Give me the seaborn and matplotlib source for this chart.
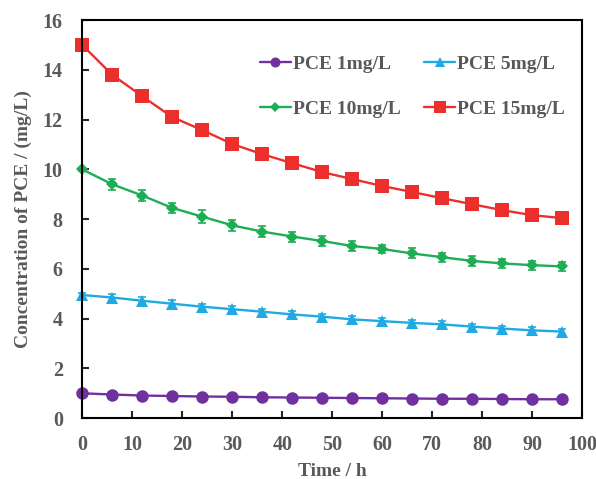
import numpy as np
import pandas as pd
import matplotlib
matplotlib.use('Agg')
import matplotlib.pyplot as plt
import seaborn as sns

# time points (h)
time_h = [0, 6, 12, 18, 24, 30, 36, 42, 48, 54, 60, 66, 72, 78, 84, 90, 96]

pce_1 = [1.00, 0.95, 0.91, 0.89, 0.87, 0.86, 0.84, 0.83, 0.82, 0.81, 0.80, 0.79, 0.78, 0.78, 0.77, 0.76, 0.76]
pce_5 = [4.95, 4.85, 4.72, 4.60, 4.48, 4.38, 4.28, 4.17, 4.08, 3.97, 3.90, 3.83, 3.77, 3.68, 3.60, 3.53, 3.48]
pce_10 = [10.0, 9.40, 8.95, 8.45, 8.10, 7.75, 7.50, 7.30, 7.12, 6.92, 6.80, 6.62, 6.47, 6.32, 6.22, 6.15, 6.10]
pce_15 = [15.0, 13.80, 12.94, 12.10, 11.58, 11.02, 10.61, 10.25, 9.89, 9.61, 9.33, 9.09, 8.84, 8.60, 8.36, 8.16, 8.04]

err_1 = [0.03] * 17
err_5 = [0.10, 0.15, 0.15, 0.15, 0.12, 0.12, 0.12, 0.12, 0.12, 0.12, 0.12, 0.12, 0.12, 0.12, 0.12, 0.12, 0.12]
err_10 = [0.05, 0.22, 0.22, 0.20, 0.25, 0.22, 0.22, 0.20, 0.20, 0.20, 0.18, 0.20, 0.18, 0.20, 0.18, 0.18, 0.18]
err_15 = [0.05, 0.18, 0.20, 0.25, 0.18, 0.18, 0.18, 0.18, 0.22, 0.18, 0.20, 0.18, 0.18, 0.18, 0.20, 0.20, 0.18]

labels = ['PCE 1mg/L', 'PCE 5mg/L', 'PCE 10mg/L', 'PCE 15mg/L']
colors = ['#7030A0', '#1FAAE3', '#1DAE55', '#EC2F2D']
markers = ['o', '^', 'D', 's']
msizes = [9, 8.5, 6.5, 10]

series = [pce_1, pce_5, pce_10, pce_15]
errors = [err_1, err_5, err_10, err_15]

sns.set_style('ticks')
plt.rcParams['font.family'] = ['Liberation Serif', 'DejaVu Serif']
plt.rcParams['font.weight'] = 'bold'
txt = '#595959'

fig = plt.figure(figsize=(5.96, 4.79), dpi=100)
ax = fig.add_axes([0.138, 0.127, 0.839, 0.831])

handles = []
for s, e, c, m, ms, lab in zip(series, errors, colors, markers, msizes, labels):
    ax.errorbar(time_h, s, yerr=e, fmt='none', ecolor=c, elinewidth=1.2,
                capsize=3, capthick=1.2, clip_on=False)
    d = pd.DataFrame({'Time': time_h, 'Conc': s})
    sns.lineplot(data=d, x='Time', y='Conc', color=c, marker=m, markersize=ms,
                 markeredgewidth=0, linewidth=1.7, ax=ax, clip_on=False, label=lab)
    handles.append(ax.get_lines()[-1])

ax.set_xlim(0, 100)
ax.set_ylim(0, 16)
ax.set_xticks(range(0, 101, 10))
ax.set_yticks(range(0, 17, 2))
ax.tick_params(direction='in', length=5, width=1.5, labelsize=14.5, labelcolor=txt)
ax.tick_params(axis='x', pad=12)
ax.tick_params(axis='y', pad=14)
for sp in ax.spines.values():
    sp.set_linewidth(1.5)
    sp.set_color('black')
ax.set_xlabel('Time / h', fontsize=14, fontweight='bold', color=txt, labelpad=6)
ax.set_ylabel('Concentration of PCE / (mg/L)', fontsize=14, fontweight='bold', color=txt, labelpad=8)

# matplotlib fills legend column-wise; reorder so rows read 1,5 / 10,15
order = [0, 2, 1, 3]
leg = ax.legend([handles[i] for i in order], [labels[i] for i in order], ncol=2,
                frameon=False, loc='upper right', bbox_to_anchor=(1.0, 0.955),
                fontsize=14, handlelength=1.6, handletextpad=0.1,
                columnspacing=1.2, labelspacing=1.4, markerscale=0.8)
for t in leg.get_texts():
    t.set_color(txt)

fig.savefig('out.png', dpi=100)
